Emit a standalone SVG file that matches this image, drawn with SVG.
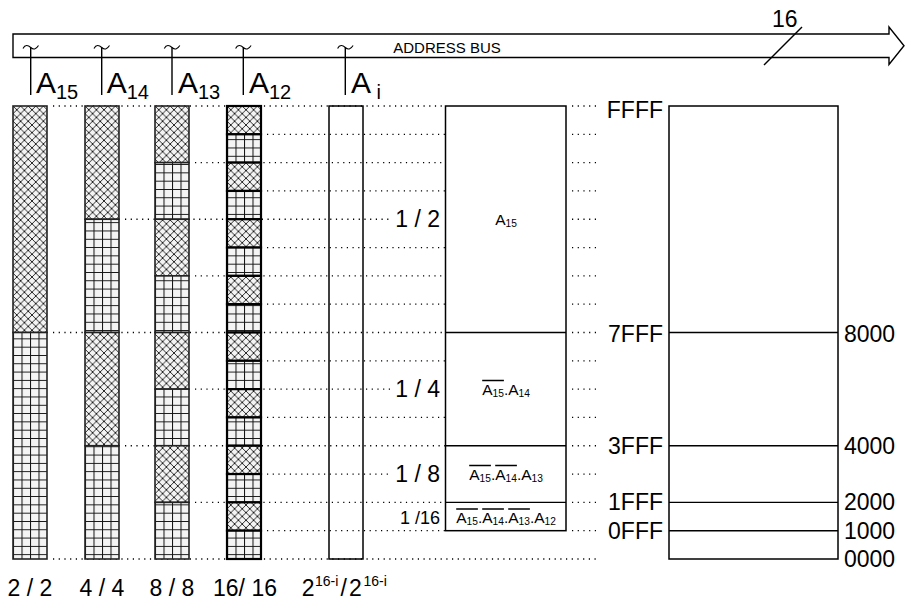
<svg xmlns="http://www.w3.org/2000/svg" width="909" height="611" viewBox="0 0 909 611">
<style>
.t{font-family:"Liberation Sans",Arial,Helvetica,sans-serif;fill:#000}
.big{font-size:23px}
.lbl{font-size:15.5px}
.sub{font-size:10.2px}
.dot{fill:none;stroke:#000;stroke-width:1.3;stroke-dasharray:1.2 4.5}
.ln{fill:none;stroke:#000;stroke-width:1.4}
.box{fill:#fff;stroke:#000;stroke-width:1.5}
.seg{stroke:#222;stroke-width:1.6}
.seg4{stroke:#000;stroke-width:2.2}
.c{fill:url(#cross)}
.g{fill:url(#grid)}
</style>
<defs>
<pattern id="cross" width="7.6" height="7.6" patternUnits="userSpaceOnUse">
<rect width="7.6" height="7.6" fill="#f4f4f4"/>
<path d="M-1,-1L8.6,8.6M8.6,-1L-1,8.6" stroke="#111" stroke-width="0.9"/>
</pattern>
<pattern id="grid" width="8.5" height="8.3" patternUnits="userSpaceOnUse">
<rect width="8.5" height="8.3" fill="#f4f4f4"/>
<path d="M0,0.5H8.5M0.5,0V8.3" stroke="#111" stroke-width="1"/>
</pattern>
</defs>
<rect width="909" height="611" fill="#fff"/>

<g id="connectors">
<path class="dot" d="M53,106H445M53,332.5H445M53,559H598
M125,219.25H392M125,445.75H445
M195,162.63H445M195,275.88H445M195,389.13H392M195,502.38H445
M267,134.31H445M267,190.94H445M267,247.56H445M267,304.19H445M267,360.81H445M267,417.44H445M267,474.06H392M267,530.69H445
M572,106H598M572,134.31H598M572,162.63H598M572,190.94H598M572,219.25H598M572,247.56H598M572,275.88H598M572,304.19H598M572,332.5H598M572,360.81H598M572,389.13H598M572,417.44H598M572,445.75H598M572,474.06H598M572,502.38H598M572,530.69H598"/>
<g id="taps" class="ln">
<path d="M30.7,47.5V95M101.7,47.5V95M172,47.5V95M243.3,47.5V95M345.3,47.5V95"/>
<path stroke-width="1.1" d="M23,48.5C25,44.5 28,45 30.7,47.5S36,49.5 38.5,45.5M94,48.5C96,44.5 99,45 101.7,47.5S107,49.5 109.5,45.5M164.3,48.5C166.3,44.5 169.3,45 172,47.5S177.3,49.5 179.8,45.5M235.6,48.5C237.6,44.5 240.6,45 243.3,47.5S248.6,49.5 251.1,45.5M337.6,48.5C339.6,44.5 342.6,45 345.3,47.5S350.6,49.5 353.1,45.5"/>
</g>
</g>

<g id="address-bus">
<path class="ln" stroke-width="1.5" d="M13,34H889V27L904,45.75L889,64.5V57.5H13Z"/>
<text class="t" x="447" y="52.5" font-size="15" text-anchor="middle">ADDRESS BUS</text>
<line class="ln" x1="764" y1="65" x2="802" y2="27" stroke-width="1.1"/>
<text class="t big" x="772" y="26.5">16</text>
</g>

<g id="bit-labels" class="t">
<text x="36" y="93" font-size="30">A<tspan x="56" y="98.5" font-size="20">15</tspan></text>
<text x="106.7" y="93" font-size="30">A<tspan x="126.7" y="98.5" font-size="20">14</tspan></text>
<text x="178" y="93" font-size="30">A<tspan x="198" y="98.5" font-size="20">13</tspan></text>
<text x="249" y="93" font-size="30">A<tspan x="269" y="98.5" font-size="20">12</tspan></text>
<text x="351" y="93" font-size="30">A<tspan x="376.5" y="98.5" font-size="20">i</tspan></text>
</g>

<g id="col-a15" transform="translate(13,106)">
<rect class="c seg" x="0" y="0" width="34" height="226.5"/>
<rect class="g seg" x="0" y="226.5" width="34" height="226.5"/>
</g>
<g id="col-a14" transform="translate(85,106)">
<rect class="c seg" x="0" y="0" width="34" height="113.25"/>
<rect class="g seg" x="0" y="113.25" width="34" height="113.25"/>
<rect class="c seg" x="0" y="226.5" width="34" height="113.25"/>
<rect class="g seg" x="0" y="339.75" width="34" height="113.25"/>
</g>
<g id="col-a13" transform="translate(155,106)">
<rect class="c seg" x="0" y="0" width="34" height="56.625"/>
<rect class="g seg" x="0" y="56.625" width="34" height="56.625"/>
<rect class="c seg" x="0" y="113.25" width="34" height="56.625"/>
<rect class="g seg" x="0" y="169.875" width="34" height="56.625"/>
<rect class="c seg" x="0" y="226.5" width="34" height="56.625"/>
<rect class="g seg" x="0" y="283.125" width="34" height="56.625"/>
<rect class="c seg" x="0" y="339.75" width="34" height="56.625"/>
<rect class="g seg" x="0" y="396.375" width="34" height="56.625"/>
</g>
<g id="col-a12" transform="translate(227,106)">
<rect class="c seg4" x="0" y="0" width="34" height="28.3125"/>
<rect class="g seg4" x="0" y="28.3125" width="34" height="28.3125"/>
<rect class="c seg4" x="0" y="56.625" width="34" height="28.3125"/>
<rect class="g seg4" x="0" y="84.9375" width="34" height="28.3125"/>
<rect class="c seg4" x="0" y="113.25" width="34" height="28.3125"/>
<rect class="g seg4" x="0" y="141.5625" width="34" height="28.3125"/>
<rect class="c seg4" x="0" y="169.875" width="34" height="28.3125"/>
<rect class="g seg4" x="0" y="198.1875" width="34" height="28.3125"/>
<rect class="c seg4" x="0" y="226.5" width="34" height="28.3125"/>
<rect class="g seg4" x="0" y="254.8125" width="34" height="28.3125"/>
<rect class="c seg4" x="0" y="283.125" width="34" height="28.3125"/>
<rect class="g seg4" x="0" y="311.4375" width="34" height="28.3125"/>
<rect class="c seg4" x="0" y="339.75" width="34" height="28.3125"/>
<rect class="g seg4" x="0" y="368.0625" width="34" height="28.3125"/>
<rect class="c seg4" x="0" y="396.375" width="34" height="28.3125"/>
<rect class="g seg4" x="0" y="424.6875" width="34" height="28.3125"/>
</g>
<g id="col-ai">
<rect x="329" y="106" width="34" height="453" fill="none" stroke="#000" stroke-width="1.5"/>
</g>

<g id="col-captions" class="t big">
<text x="30" y="596" text-anchor="middle">2 / 2</text>
<text x="102" y="596" text-anchor="middle">4 / 4</text>
<text x="172" y="596" text-anchor="middle">8 / 8</text>
<text x="245" y="596" text-anchor="middle">16/ 16</text>
<text x="301.7" y="596">2<tspan x="315" y="586" font-size="14">16-i</tspan><tspan x="340.5" y="596">/</tspan><tspan x="349" y="596">2</tspan><tspan x="363.5" y="586" font-size="14">16-i</tspan></text>
</g>

<g id="decode-map">
<rect class="box" x="445.5" y="106" width="120.5" height="424.69"/>
<path class="ln" stroke-width="1.6" d="M445.5,332.5H566M445.5,445.75H566M445.5,502.38H566"/>
<g class="t big" text-anchor="end">
<text x="440" y="227">1 / 2</text>
<text x="440" y="397">1 / 4</text>
<text x="440" y="482">1 / 8</text>
<text x="440" y="524" font-size="18">1 /16</text>
</g>
<g class="t lbl">
<text x="495.2" y="225">A<tspan class="sub" x="505.5" y="227">15</tspan></text>
<text x="482.2" y="395">A<tspan class="sub" x="492.5" y="397">15</tspan><tspan x="503.9" y="395">.A</tspan><tspan class="sub" x="518.5" y="397">14</tspan></text>
<text x="469.2" y="480">A<tspan class="sub" x="479.5" y="482">15</tspan><tspan x="490.9" y="480">.A</tspan><tspan class="sub" x="505.5" y="482">14</tspan><tspan x="516.9" y="480">.A</tspan><tspan class="sub" x="531.5" y="482">13</tspan></text>
<text x="456.2" y="523">A<tspan class="sub" x="466.5" y="525">15</tspan><tspan x="477.9" y="523">.A</tspan><tspan class="sub" x="492.5" y="525">14</tspan><tspan x="503.9" y="523">.A</tspan><tspan class="sub" x="518.5" y="525">13</tspan><tspan x="529.9" y="523">.A</tspan><tspan class="sub" x="544.5" y="525">12</tspan></text>
</g>
<path class="ln" stroke-width="1.1" d="M482.2,380.5H503.9M469.2,465.5H490.9M495.2,465.5H516.9M456.2,509H477.9M482.2,509H503.9M508.2,509H529.9"/>
</g>

<g id="memory-map">
<rect x="669" y="106" width="169" height="453" fill="none" stroke="#000" stroke-width="1.5"/>
<path class="ln" d="M669,332.5H838M669,445.75H838M669,502.38H838M669,530.69H838"/>
<g class="t big" text-anchor="end">
<text x="663" y="117.5">FFFF</text>
<text x="663" y="341.5">7FFF</text>
<text x="663" y="454">3FFF</text>
<text x="663" y="510">1FFF</text>
<text x="663" y="539">0FFF</text>
</g>
<g class="t big">
<text x="844" y="341.5">8000</text>
<text x="844" y="454">4000</text>
<text x="844" y="510">2000</text>
<text x="844" y="539">1000</text>
<text x="844" y="567">0000</text>
</g>
</g>
</svg>
